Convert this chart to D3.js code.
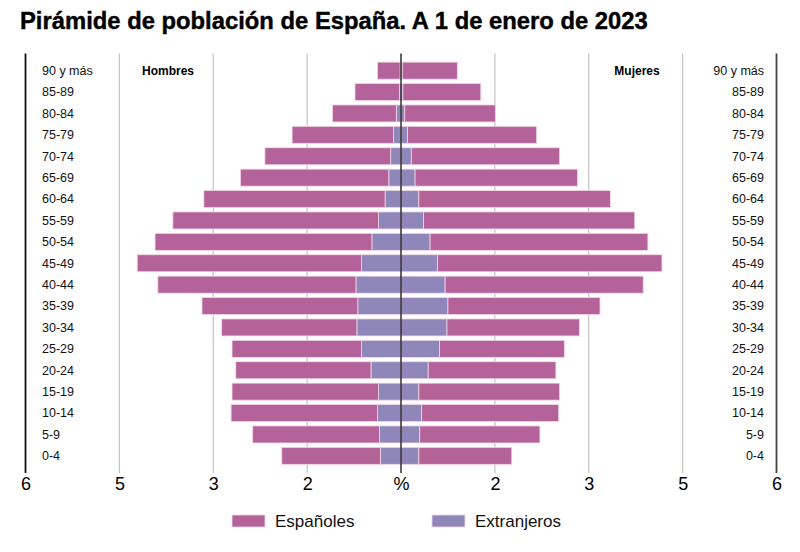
<!DOCTYPE html>
<html>
<head>
<meta charset="utf-8">
<script src="https://cdn.jsdelivr.net/npm/d3@7"></script>
<style>
  html, body { margin: 0; padding: 0; background: #fff; }
  svg { display: block; font-family: "Liberation Sans", Arial, Helvetica, sans-serif; }
</style>
</head>
<body>
<svg id="chart" width="800" height="552"></svg>
<script>
// ---- Data (axis units: one unit per vertical gridline) ----
const ageGroups = ["90 y más","85-89","80-84","75-79","70-74","65-69","60-64","55-59","50-54","45-49","40-44","35-39","30-34","25-29","20-24","15-19","10-14","5-9","0-4"];
const hombresEspanoles   = [0.24,0.475,0.68,1.08,1.34,1.58,1.93,2.19,2.31,2.39,2.11,1.66,1.44,1.38,1.44,1.56,1.56,1.35,1.05];
const hombresExtranjeros = [0.01,0.015,0.05,0.08,0.11,0.13,0.17,0.24,0.31,0.42,0.48,0.46,0.47,0.42,0.32,0.24,0.25,0.23,0.22];
const mujeresEspanoles   = [0.586,0.83,0.965,1.375,1.58,1.73,2.04,2.25,2.32,2.39,2.11,1.62,1.41,1.33,1.36,1.50,1.46,1.28,0.99];
const mujeresExtranjeros = [0.014,0.02,0.04,0.07,0.11,0.15,0.19,0.24,0.31,0.39,0.47,0.50,0.49,0.41,0.29,0.19,0.22,0.20,0.19];
const tickValues = [-4,-3,-2,-1,0,1,2,3,4];
const tickLabels = ["6","5","3","2","%","2","3","5","6"];
const seriesNames = ["Españoles","Extranjeros"];
const colors = {"Españoles":"#b4639a","Extranjeros":"#8f87b9"};

const svg = d3.select("#chart");

const x = d3.scaleLinear().domain([-4,4]).range([25.5,776.5]);
const y = d3.scaleBand().domain(ageGroups).range([60,466.5]).paddingInner(0.205).paddingOuter(0.1);

// Title
svg.append("text")
  .attr("x",20).attr("y",29)
  .attr("font-size",23.8).attr("font-weight","bold")
  .attr("fill","#000").attr("stroke","#000").attr("stroke-width",0.4)
  .text("Pirámide de población de España. A 1 de enero de 2023");

// Gridlines
const gridTop = 53.5, gridBottom = 473;
svg.append("g").selectAll("line")
  .data(tickValues.filter(v => v !== 0 && Math.abs(v) !== 4))
  .join("line")
  .attr("x1",d=>x(d)).attr("x2",d=>x(d))
  .attr("y1",gridTop).attr("y2",gridBottom)
  .attr("stroke","#c4c4c4").attr("stroke-width",1.2);

// Outer axis lines
svg.append("line").attr("x1",x(-4)).attr("x2",x(-4)).attr("y1",gridTop).attr("y2",gridBottom)
  .attr("stroke","#111").attr("stroke-width",1.8);
svg.append("line").attr("x1",x(4)).attr("x2",x(4)).attr("y1",gridTop).attr("y2",gridBottom)
  .attr("stroke","#444").attr("stroke-width",1.8);

// Bars
const rows = ageGroups.map((g,i)=>({g,
  hEsp:hombresEspanoles[i], hExt:hombresExtranjeros[i],
  mEsp:mujeresEspanoles[i], mExt:mujeresExtranjeros[i]}));

const segs = [];
rows.forEach(r=>{
  segs.push({g:r.g, s:"Extranjeros", x0:-r.hExt, x1:0});
  segs.push({g:r.g, s:"Españoles", x0:-(r.hExt+r.hEsp), x1:-r.hExt});
  segs.push({g:r.g, s:"Extranjeros", x0:0, x1:r.mExt});
  segs.push({g:r.g, s:"Españoles", x0:r.mExt, x1:r.mExt+r.mEsp});
});
svg.append("g").selectAll("rect")
  .data(segs)
  .join("rect")
  .attr("x",d=>x(d.x0))
  .attr("width",d=>x(d.x1)-x(d.x0))
  .attr("y",d=>y(d.g))
  .attr("height",y.bandwidth())
  .attr("fill",d=>colors[d.s])
  .attr("stroke","#f3d6e8").attr("stroke-width",0.8);

// Center line
svg.append("line").attr("x1",x(0)).attr("x2",x(0)).attr("y1",gridTop).attr("y2",gridBottom)
  .attr("stroke","#111").attr("stroke-width",1.3);

// Category labels
const labG = svg.append("g").attr("font-size",12.5).attr("fill","#111");
labG.selectAll("text.l").data(ageGroups).join("text").attr("class","l")
  .attr("x",42).attr("y",d=>y(d)+y.bandwidth()/2).attr("dy","0.35em")
  .text(d=>d);
labG.selectAll("text.r").data(ageGroups).join("text").attr("class","r")
  .attr("x",764).attr("y",d=>y(d)+y.bandwidth()/2).attr("dy","0.35em")
  .attr("text-anchor","end")
  .text(d=>d);

// Sex labels
svg.append("text").attr("x",168).attr("y",y(ageGroups[0])+y.bandwidth()/2).attr("dy","0.35em")
  .attr("text-anchor","middle").attr("font-size",12).attr("font-weight","bold").text("Hombres");
svg.append("text").attr("x",637).attr("y",y(ageGroups[0])+y.bandwidth()/2).attr("dy","0.35em")
  .attr("text-anchor","middle").attr("font-size",12).attr("font-weight","bold").text("Mujeres");

// X axis (custom labels)
const xAxis = d3.axisBottom(x).tickValues(tickValues)
  .tickFormat((d,i)=>tickLabels[i]).tickSize(0).tickPadding(0);
const ax = svg.append("g").attr("transform","translate(0,477)").call(xAxis);
ax.select(".domain").remove();
ax.selectAll("text").attr("font-size",18).attr("fill","#000")
  .attr("font-family","'Liberation Sans', Arial, sans-serif");

// Legend
const lg = svg.append("g");
const legX = [232,432];
seriesNames.forEach((s,i)=>{
  lg.append("rect").attr("x",legX[i]).attr("y",515).attr("width",33).attr("height",12)
    .attr("fill",colors[s]).attr("stroke","#f3d6e8").attr("stroke-width",0.8);
  lg.append("text").attr("x",legX[i]+43).attr("y",521).attr("dy","0.35em")
    .attr("font-size",17).attr("fill","#111").text(s);
});
</script>
</body>
</html>
